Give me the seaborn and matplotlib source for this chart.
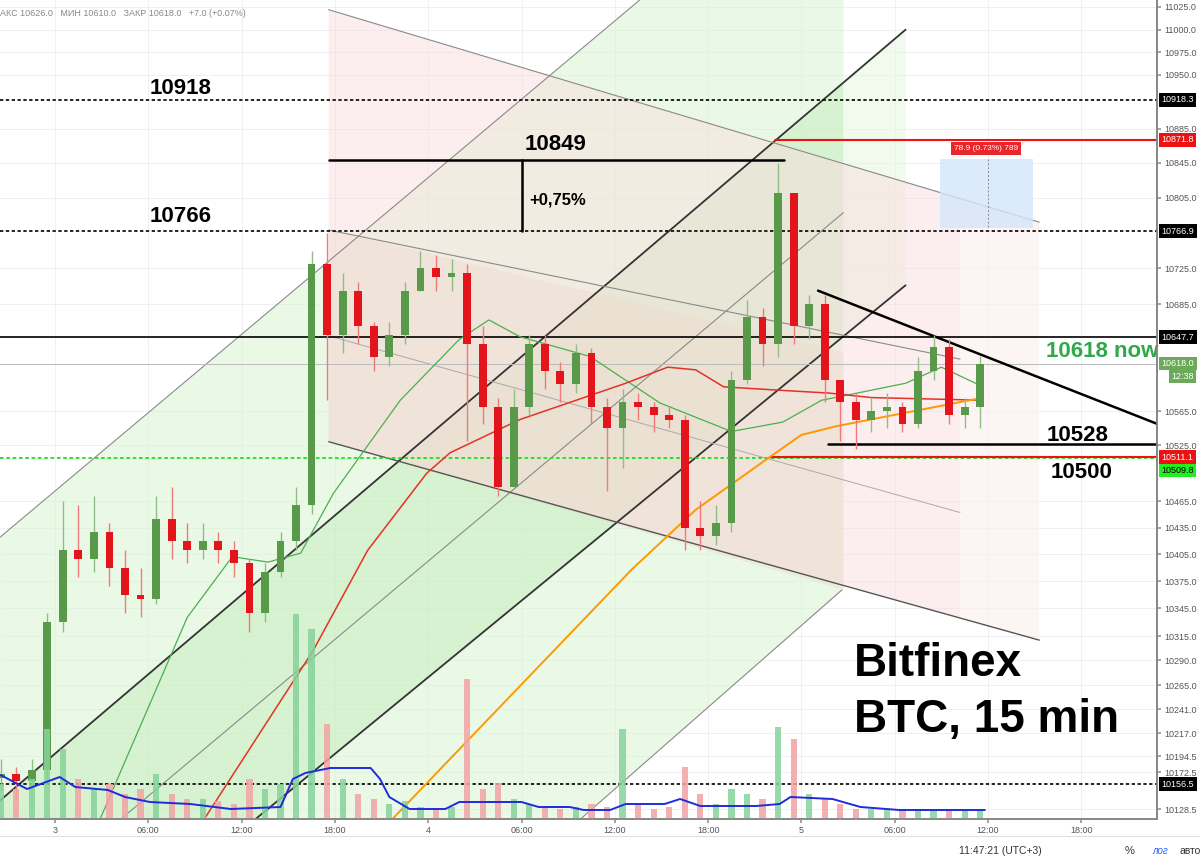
import numpy as np
import matplotlib
matplotlib.use("Agg")
import matplotlib.pyplot as plt
import matplotlib.transforms as mtransforms
from matplotlib.ticker import FixedLocator, NullLocator
import seaborn as sns

sns.set_theme(style="white")
plt.rcParams['font.family'] = ['Liberation Sans', 'DejaVu Sans']

# hourly candles, hours from day "3" 00:00
hours = list(range(-4, 60))
opens_first = 10165
closes = [10170, 10160, 10175, 10330, 10410, 10400, 10430, 10390, 10360, 10355,
          10445, 10420, 10410, 10420, 10410, 10395, 10340, 10385, 10420, 10460,
          10730, 10650, 10700, 10660, 10625, 10650, 10700, 10725, 10715, 10720,
          10640, 10570, 10480, 10570, 10640, 10610, 10595, 10630, 10570, 10545,
          10575, 10570, 10560, 10555, 10435, 10425, 10440, 10600, 10670, 10640,
          10810, 10660, 10685, 10600, 10575, 10555, 10565, 10570, 10550, 10610,
          10637, 10560, 10570, 10618]
highs = [10190, 10180, 10190, 10340, 10465, 10460, 10470, 10440, 10410, 10390,
         10470, 10480, 10440, 10440, 10430, 10420, 10400, 10395, 10430, 10480,
         10745, 10765, 10720, 10710, 10665, 10665, 10710, 10745, 10740, 10735,
         10730, 10660, 10580, 10590, 10650, 10650, 10620, 10640, 10635, 10580,
         10590, 10585, 10575, 10570, 10560, 10465, 10460, 10610, 10690, 10680,
         10845, 10810, 10695, 10695, 10600, 10585, 10580, 10585, 10575, 10625,
         10650, 10645, 10580, 10626]
lows = [10150, 10140, 10150, 10160, 10320, 10380, 10385, 10370, 10340, 10335,
        10350, 10400, 10395, 10400, 10395, 10380, 10320, 10330, 10380, 10410,
        10450, 10577, 10630, 10640, 10610, 10615, 10640, 10700, 10700, 10700,
        10530, 10550, 10470, 10480, 10560, 10590, 10575, 10585, 10550, 10475,
        10500, 10555, 10540, 10545, 10410, 10410, 10415, 10430, 10595, 10615,
        10625, 10640, 10645, 10575, 10530, 10520, 10540, 10545, 10540, 10545,
        10600, 10550, 10545, 10545]
volumes = [35, 30, 40, 90, 70, 40, 30, 35, 25, 30, 45, 25, 20, 20, 18, 15, 40, 30, 35, 205,
           190, 95, 40, 25, 20, 15, 18, 12, 10, 12, 140, 30, 36, 20, 15, 12, 10, 12, 15, 12,
           90, 15, 10, 12, 52, 25, 15, 30, 25, 20, 92, 80, 25, 20, 15, 10, 10, 10, 8, 10,
           10, 8, 8, 10]

# moving averages (hour, price)
ma_green_h = [2.9, 8.5, 11.4, 13.7, 15.8, 17.9, 22.2, 26.0, 27.9, 29.9, 34.4, 38.9, 43.5, 46.8, 49.3, 54.7, 57.0, 59.7]
ma_green_p = [10117, 10335, 10402, 10396, 10406, 10473, 10577, 10645, 10667, 10648, 10626, 10574, 10541, 10552, 10577, 10596, 10614, 10592]
ma_red_h = [9.6, 16.6, 20.1, 23.9, 25.4, 29.9, 36.7, 39.4, 41.2, 43.0, 46.8, 49.8, 52.5, 59.7]
ma_red_p = [10117, 10300, 10409, 10494, 10516, 10555, 10596, 10614, 10611, 10592, 10588, 10585, 10580, 10577]
ma_orange_h = [21.7, 37.1, 41.2, 45.7, 48.0, 50.2, 54.7, 59.7]
ma_orange_p = [10117, 10388, 10455, 10508, 10537, 10547, 10563, 10580]
vol_ma_h = [-3.5, -1.8, 0.3, 1.3, 3.4, 4.5, 6.1, 8.7, 11.3, 14.5, 15.3, 16.1, 17.7, 20.3, 20.9, 21.5,
            22.8, 25.1, 26.0, 30.0, 31.1, 33.1, 34.0, 35.7, 36.7, 39.2, 40.2, 41.5, 45.1, 46.6,
            47.3, 50.0, 51.8, 54.3, 59.8]
vol_ma_v = [44, 30, 42, 32, 29, 22, 17, 15, 10, 12, 40, 46, 51, 51, 40, 22, 10, 10, 17, 17, 12,
            12, 9, 9, 15, 15, 20, 13, 13, 15, 22, 20, 12, 9, 9]

# price axis calibration (pixel row -> price) of the nonlinear axis
cal_px = np.array([-200, 0, 7, 75, 100, 163, 231, 304, 337, 411, 457, 501, 554, 608, 660, 709, 756, 784, 809, 819, 1000])
cal_val = np.array([11250, 11033, 11025, 10950, 10918.3, 10845, 10766.9, 10685, 10647.7, 10565, 10511.1,
                    10465, 10405, 10345, 10290, 10241, 10194.5, 10156.5, 10128.5, 10117, 9900])
tick_vals = [11025, 11000, 10975, 10950, 10885, 10845, 10805, 10725, 10685, 10565, 10525, 10465,
             10435, 10405, 10375, 10345, 10315, 10290, 10265, 10241, 10217, 10194.5, 10172.5, 10128.5]


def fwd(v):
    return np.interp(v, cal_val[::-1], -cal_px[::-1])


def inv(y):
    return np.interp(y, -cal_px[::-1], cal_val[::-1])


fig = plt.figure(figsize=(12, 8.63), dpi=100)
ax = fig.add_axes([0, 1 - 819 / 863, 1157 / 1200, 819 / 863])
ax2 = ax.twinx()
ax2.set_zorder(ax.get_zorder() + 1)
ax2.patch.set_visible(False)
ax.set_facecolor('white')

x0, x1 = -3.54, 70.87
ax.set_xlim(x0, x1)
ax.set_yscale('function', functions=(fwd, inv))
ax.set_ylim(10117, 11033)

# grid
for t in tick_vals:
    ax.axhline(t, color='#eef0f3', lw=0.7, zorder=0)
for h in range(0, 72, 6):
    ax.axvline(h, color='#eef0f3', lw=0.7, zorder=0)

# channel shading
ax.fill([x0, 37.6, 50.7, 50.7, 33.8, x0], [10424, 11033, 11033, 10365, 10117, 10117],
        color='#d9f5d3', alpha=0.55, lw=0, zorder=1)
ax.fill([x0, 50.7, 50.7, 12.9, x0], [10138, 10940, 10647, 10117, 10117],
        color='#c3ecbb', alpha=0.5, lw=0, zorder=1)
ax.fill([50.7, 54.7, 54.7, 50.7], [10940, 11000, 10706, 10647], color='#e6f8e2', alpha=0.6, lw=0, zorder=1)
ax.fill([17.6, 58.2, 58.2, 17.6], [11022, 10805, 10335, 10529], color='#fbdede', alpha=0.5, lw=0, zorder=1)
ax.fill([58.2, 63.3, 63.3, 58.2], [10805, 10777, 10311, 10335], color='#fdeeee', alpha=0.6, lw=0, zorder=1)
ax.fill([17.6, 50.7, 50.7, 17.6], [10768, 10631, 10365, 10529], color='#eed6cc', alpha=0.35, lw=0, zorder=1)

# channel lines
thin = dict(color='#8a8a8a', lw=0.8, zorder=2)
thick = dict(color='#333333', lw=1.3, zorder=2)
ax.plot([x0, 37.6], [10424, 11033], **thin)
ax.plot([4.24, 50.7], [10117, 10788], **thin)
ax.plot([33.8, 50.6], [10117, 10365], **thin)
ax.plot([x0, 54.7], [10138, 11000], **thick)
ax.plot([12.9, 54.7], [10117, 10706], **thick)
ax.plot([17.6, 63.3], [11022, 10777], **thin)
ax.plot([17.6, 58.2], [10768, 10623], **thin)
ax.plot([17.6, 58.2], [10649, 10452], color='#aaaaaa', lw=0.7, zorder=2)
ax.plot([17.6, 63.3], [10529, 10311], color='#555555', lw=1.0, zorder=2)

# horizontal levels
ax.axhline(10918.3, color='black', ls=(0, (2, 1.5)), lw=1.2, zorder=3)
ax.axhline(10766.9, color='black', ls=(0, (2, 1.5)), lw=1.2, zorder=3)
ax.axhline(10156.5, color='black', ls=(0, (2, 1.5)), lw=1.2, zorder=3)
ax.axhline(10647.7, color='black', lw=1.2, zorder=3)
ax.axhline(10618, color='#bbbbbb', lw=0.7, zorder=3)
ax.axhline(10509.8, color='#22dd22', ls=(0, (2, 1.5)), lw=1.3, zorder=3)
ax.plot([46.3, x1], [10871.8, 10871.8], color='#ee1111', lw=1.5, zorder=3)
ax.plot([46.0, x1], [10511.1, 10511.1], color='#ee1111', lw=1.5, zorder=3)
ax.plot([17.6, 46.9], [10848, 10848], color='black', lw=1.8, zorder=4)
ax.plot([30.0, 30.0], [10848, 10767], color='black', lw=1.8, zorder=4)
ax.plot([49.07, x1], [10700, 10550], color='black', lw=1.8, zorder=4)
ax.plot([49.7, x1], [10526, 10526], color='black', lw=1.8, zorder=4)

# measurement box
ax.fill([56.9, 62.9, 62.9, 56.9], [10770, 10770, 10850, 10850], color='#d4e6fa', alpha=0.8, lw=0, zorder=3)
ax.plot([60.0, 60.0], [10772, 10850], color='#888888', lw=0.7, ls=(0, (2, 2)), zorder=3)
ax.text(59.9, 10858, '78.9 (0.73%) 789', color='white', fontsize=6, ha='center', va='bottom',
        bbox=dict(boxstyle='square,pad=0.35', fc='#e8262b', ec='none'), zorder=6)

# moving averages
sns.lineplot(x=ma_green_h, y=ma_green_p, ax=ax, color='#4caf50', lw=0.9, sort=False, estimator=None, zorder=5)
sns.lineplot(x=ma_red_h, y=ma_red_p, ax=ax, color='#e53222', lw=1.1, sort=False, estimator=None, zorder=5)
sns.lineplot(x=ma_orange_h, y=ma_orange_p, ax=ax, color='#ff9900', lw=1.4, sort=False, estimator=None, zorder=5)

# candles
opens = [opens_first] + closes[:-1]
centers = np.array(hours) + 0.5
up = np.array(closes) >= np.array(opens)
colors = np.where(up, '#58994a', '#e3141c')
wick_colors = np.where(up, '#8fbf85', '#f07a7a')
ax.vlines(centers, lows, highs, colors=wick_colors, lw=1.0, zorder=6)
body_lo = np.minimum(opens, closes)
body_hi = np.maximum(opens, closes)
for c, lo, hi, col in zip(centers, body_lo, body_hi, colors):
    if hi - lo < 3:
        hi = lo + 3
    ax.bar(c, hi - lo, bottom=lo, width=0.5, color=col, lw=0, zorder=7)

# volume pane
vol_colors = np.where(up, '#86d39a', '#f3a3a3')
ax2.bar(centers, volumes, width=0.4, color=vol_colors, alpha=0.85, lw=0)
sns.lineplot(x=vol_ma_h, y=vol_ma_v, ax=ax2, color='#1f2bdd', lw=1.4, sort=False, estimator=None)
ax2.set_ylim(0, 819)
ax2.set_yticks([])
ax2.set_ylabel('')

# axes styling
ax.yaxis.tick_right()
ax.yaxis.set_major_locator(FixedLocator(tick_vals))
ax.yaxis.set_minor_locator(NullLocator())
ax.set_yticklabels([f'{v:.1f}' for v in tick_vals], fontsize=6.5, color='#555555')
ax.tick_params(axis='y', right=True, length=3, color='#999999', pad=2)
ax.set_xticks(range(0, 72, 6))
ax.set_xticklabels(['3', '06:00', '12:00', '18:00', '4', '06:00', '12:00', '18:00',
                    '5', '06:00', '12:00', '18:00'], fontsize=6.5, color='#555555')
ax.tick_params(axis='x', bottom=True, length=3, color='#999999', pad=2)
for s in ['top', 'left']:
    ax.spines[s].set_visible(False)
    ax2.spines[s].set_visible(False)
ax.spines['right'].set_color('#888888')
ax.spines['bottom'].set_color('#888888')
ax2.spines['right'].set_color('#888888')
ax2.spines['bottom'].set_color('#888888')
ax.set_xlabel('')
ax.set_ylabel('')

# price label boxes on the axis
bt = mtransforms.blended_transform_factory(ax.transAxes, ax.transData)
boxes = [(10918.3, '10918.3', 'black', 'white'), (10871.8, '10871.8', '#ee1111', 'white'),
         (10766.9, '10766.9', 'black', 'white'), (10647.7, '10647.7', 'black', 'white'),
         (10618.0, '10618.0', '#6aaa58', 'white'), (10511.1, '10511.1', '#ee1111', 'white'),
         (10497.0, '10509.8', '#22ee22', 'black'), (10156.5, '10156.5', 'black', 'white')]
for v, s, fc, tc in boxes:
    ax.text(1.004, v, s, transform=bt, fontsize=6.5, color=tc, ha='left', va='center', clip_on=False,
            bbox=dict(boxstyle='square,pad=0.25', fc=fc, ec='none'), zorder=10)
ax.text(1.012, 10604, '12:38', transform=bt, fontsize=6.5, color='white', ha='left', va='center',
        clip_on=False, bbox=dict(boxstyle='square,pad=0.25', fc='#6aaa58', ec='none'), zorder=10)

# annotations
big = dict(fontsize=16, fontweight='bold', color='black', va='center', zorder=9)
ax.text(6.1, 10933, '10918', **big)
ax.text(6.1, 10784, '10766', **big)
ax.text(30.2, 10866, '10849', **big)
ax.text(30.5, 10802, '+0,75%', fontsize=12, fontweight='bold', color='black', va='center', zorder=9)
ax.text(63.7, 10631, '10618 now', fontsize=16, fontweight='bold', color='#2ea84a', va='center', zorder=9)
ax.text(63.8, 10536, '10528', **big)
ax.text(64.0, 10495, '10500', **big)
ax.text(51.4, 10286, 'Bitfinex', fontsize=33, fontweight='bold', color='black', va='center', zorder=9)
ax.text(51.4, 10230, 'BTC, 15 min', fontsize=33, fontweight='bold', color='black', va='center', zorder=9)

fig.text(0.0, 1 - 14 / 863, 'АКС 10626.0   МИН 10610.0   ЗАКР 10618.0   +7.0 (+0.07%)',
         fontsize=6.5, color='#888888', va='center')
fig.add_artist(plt.Line2D([0, 1], [1 - 836 / 863] * 2, color='#e0e0e0', lw=0.8))
fig.text(1000 / 1200, 1 - 851 / 863, '11:47:21 (UTC+3)', fontsize=7.5, color='#333333', ha='center', va='center')
fig.text(1130 / 1200, 1 - 851 / 863, '%', fontsize=8, color='#333333', ha='center', va='center')
fig.text(1160 / 1200, 1 - 851 / 863, 'лог', fontsize=7, color='#2962ff', ha='center', va='center', style='italic')
fig.text(1180 / 1200, 1 - 851 / 863, 'авто', fontsize=7.5, color='#333333', ha='left', va='center')

fig.savefig('out.png', dpi=100)
